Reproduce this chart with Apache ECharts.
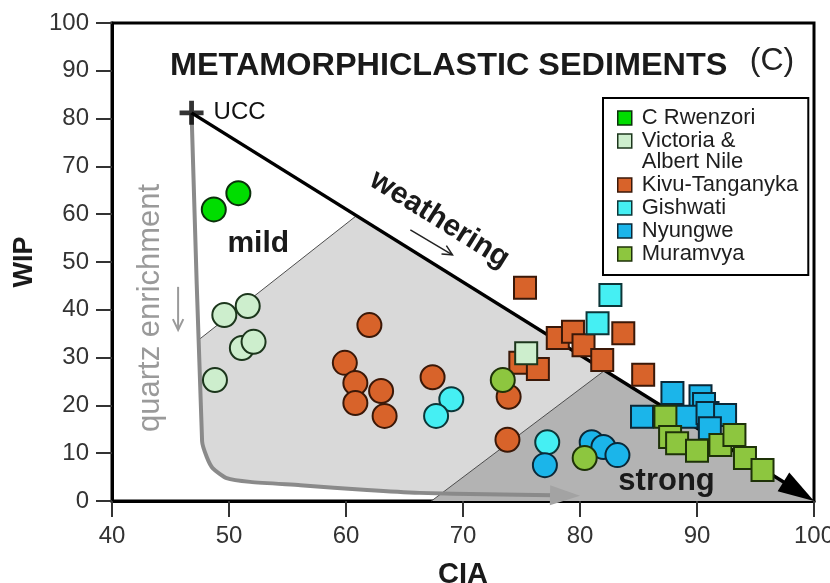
<!DOCTYPE html>
<html>
<head>
<meta charset="utf-8">
<script src="https://cdn.jsdelivr.net/npm/echarts@6/dist/echarts.min.js"></script>
<style>
  html, body { margin: 0; padding: 0; background: #fff; }
  #chart { width: 830px; height: 583px; }
</style>
</head>
<body>
<div id="chart"></div>
<script>
// ---- axes ----
const xTicks = [40, 50, 60, 70, 80, 90, 100];
const yTicks = [0, 10, 20, 30, 40, 50, 60, 70, 80, 90, 100];
const xTitle = 'CIA';
const yTitle = 'WIP';

// ---- sample groups (CIA, WIP) ----
const groupNames = ['C Rwenzori', 'Victoria & Albert Nile', 'Kivu-Tanganyka', 'Gishwati', 'Nyungwe', 'Muramvya'];

const rwenzoriCircles = [[48.7, 61.0], [50.8, 64.4]];
const rwenzoriSquares = [];

const victoriaCircles = [[49.6, 38.9], [51.6, 40.8], [51.1, 32.0], [52.1, 33.3], [48.8, 25.3]];
const victoriaSquares = [[75.4, 30.9]];

const kivuCircles = [[62.0, 36.8], [59.9, 28.9], [60.8, 24.7], [60.8, 20.5], [63.0, 23.0],
                     [63.3, 17.8], [67.4, 25.9], [73.9, 21.8], [73.8, 12.8]];
const kivuSquares = [[75.3, 44.6], [74.9, 28.9], [76.4, 27.6], [78.1, 34.1], [79.4, 35.4],
                     [80.3, 32.6], [81.9, 29.5], [83.7, 35.1], [85.4, 26.4]];

const gishwatiCircles = [[69.0, 21.3], [67.7, 17.8], [77.2, 12.3]];
const gishwatiSquares = [[82.6, 43.1], [81.5, 37.2]];

const nyungweCircles = [[77.0, 7.5], [81.0, 12.3], [82.0, 11.3], [83.2, 9.6]];
const nyungweSquares = [[85.3, 17.6], [87.9, 22.6], [90.3, 21.9], [90.6, 20.3], [89.1, 17.6],
                        [90.9, 18.4], [92.4, 18.0], [91.1, 15.2]];

const muramvyaCircles = [[73.4, 25.3], [80.4, 9.0]];
const muramvyaSquares = [[87.3, 17.6], [87.7, 13.4], [88.3, 12.1], [90.0, 10.5], [92.0, 11.7],
                         [93.2, 13.8], [94.1, 9.0], [95.6, 6.5]];

// upper continental crust reference
const ucc = [46.8, 81.2];

// ---- weathering / sorting trends ----
const weatheringTrend = [ucc, [100, 0]];
const quartzTrend = [ucc, [47.7, 12.5], [48.1, 9.2], [48.6, 6.9], [49.8, 4.8], [51.8, 4.0],
                     [56.1, 3.3], [61.8, 2.3], [66.3, 1.7], [72.0, 1.4], [80.0, 1.1]];

// ---- weathering-intensity fields ----
const mildLine = [[47.4, 33.7], [60.9, 59.7]];
const strongLine = [[67.3, 0], [82.1, 27.3]];
const moderateField = [[47.4, 33.7], [60.9, 59.7], [82.1, 27.3], [68.2, 1.6], [66.3, 1.7],
                       [61.8, 2.3], [56.1, 3.3], [51.8, 4.0], [49.8, 4.8], [48.6, 6.9],
                       [48.1, 9.2], [47.7, 12.5]];
const strongField = [[67.3, 0], [82.1, 27.3], [100, 0]];

const FONT = '"Liberation Sans", Arial, Helvetica, sans-serif';

const chart = echarts.init(document.getElementById('chart'), null, { renderer: 'canvas' });

function fieldSeries(points, fill, edge) {
  return {
    type: 'custom', coordinateSystem: 'cartesian2d', silent: true, z: 1,
    encode: { x: 0, y: 1 }, data: points, clip: false,
    renderItem(params, api) {
      if (params.dataIndex !== 0) return null;
      const children = [{ type: 'polygon', shape: { points: points.map(p => api.coord(p)) },
                          style: { fill: fill, stroke: null } }];
      if (edge) {
        children.push({ type: 'polyline', shape: { points: edge.map(p => api.coord(p)) },
                        style: { stroke: '#4d4d4d', lineWidth: 1, fill: null } });
      }
      return { type: 'group', children };
    }
  };
}

function arrowSeries(points, o) {
  return {
    type: 'custom', coordinateSystem: 'cartesian2d', silent: true, z: 2,
    encode: { x: 0, y: 1 }, data: points, clip: false,
    renderItem(params, api) {
      if (params.dataIndex !== 0) return null;
      const px = points.map(p => api.coord(p));
      const tip = px[px.length - 1], prev = px[px.length - 2];
      let dx = tip[0] - prev[0], dy = tip[1] - prev[1];
      const len = Math.hypot(dx, dy); dx /= len; dy /= len;
      const base = [tip[0] - dx * o.headLen, tip[1] - dy * o.headLen];
      const nx = -dy, ny = dx;
      const shaft = px.slice(0, -1).concat([[base[0] + dx * 3, base[1] + dy * 3]]);
      return {
        type: 'group',
        children: [
          { type: 'polyline', shape: { points: shaft, smooth: o.smooth || 0 },
            style: { stroke: o.color, lineWidth: o.width, fill: null, lineJoin: 'round', lineCap: 'butt' } },
          { type: 'polygon', shape: { points: [tip,
              [base[0] + nx * o.headW, base[1] + ny * o.headW],
              [base[0] - nx * o.headW, base[1] - ny * o.headW]] },
            style: { fill: o.headColor } }
        ]
      };
    }
  };
}

function groupSeries(name, circles, squares, fill, stroke) {
  return {
    type: 'scatter', name: name, z: 4,
    itemStyle: { color: fill, borderColor: stroke, borderWidth: 2, opacity: 1 },
    emphasis: { disabled: true },
    data: circles.map(p => ({ value: p, symbol: 'circle', symbolSize: 24 }))
      .concat(squares.map(p => ({ value: p, symbol: 'rect', symbolSize: 22 })))
  };
}

const option = {
  animation: false,
  backgroundColor: '#fff',
  grid: { left: 112, right: 16, top: 23, bottom: 82, outerBoundsMode: 'none', containLabel: false,
          show: true, borderColor: '#000', borderWidth: 3, backgroundColor: 'transparent' },
  xAxis: {
    type: 'value', min: xTicks[0], max: xTicks[xTicks.length - 1], interval: xTicks[1] - xTicks[0],
    name: xTitle, nameLocation: 'middle', nameGap: 59,
    nameTextStyle: { fontFamily: FONT, fontSize: 29, fontWeight: 'bold', color: '#1a1a1a' },
    axisLine: { show: true, lineStyle: { color: '#000', width: 3 } },
    axisTick: { show: true, inside: false, length: 16, lineStyle: { color: '#333', width: 2 } },
    axisLabel: { fontFamily: FONT, fontSize: 24, color: '#333', margin: 23 },
    splitLine: { show: false }
  },
  yAxis: {
    type: 'value', min: yTicks[0], max: yTicks[yTicks.length - 1], interval: yTicks[1] - yTicks[0],
    name: yTitle, nameLocation: 'middle', nameGap: 71,
    nameTextStyle: { fontFamily: FONT, fontSize: 27, fontWeight: 'bold', color: '#1a1a1a' },
    axisLine: { show: true, lineStyle: { color: '#000', width: 3 } },
    axisTick: { show: true, inside: false, length: 16, lineStyle: { color: '#333', width: 2 } },
    axisLabel: { fontFamily: FONT, fontSize: 24, color: '#333', margin: 23 },
    splitLine: { show: false }
  },
  legend: {
    orient: 'vertical', left: 603, top: 98,
    padding: [9, 10, 10, 14], itemWidth: 14, itemHeight: 14, itemGap: 1,
    icon: 'rect', selectedMode: false,
    backgroundColor: '#fff', borderColor: '#000', borderWidth: 2, borderRadius: 0,
    itemStyle: { borderWidth: 1.5 },
    textStyle: { fontFamily: FONT, fontSize: 22, lineHeight: 21, color: '#1e1e1e', padding: [0, 0, 0, 5] },
    formatter: name => name === groupNames[1] ? '{v|Victoria &}\n{v|Albert Nile}' : name,
    data: groupNames.map((n, i) => i === 1
      ? { name: n, textStyle: { height: 21, rich: { v: { fontFamily: FONT, fontSize: 22, lineHeight: 21, color: '#1e1e1e' } } } }
      : { name: n })
  },
  series: [
    fieldSeries(moderateField, '#d9d9d9', mildLine),
    fieldSeries(strongField, '#b3b3b3', strongLine),
    arrowSeries(quartzTrend, { color: '#8a8a8a', width: 4, headLen: 30, headW: 10, headColor: '#a3a3a3', smooth: 0.2 }),
    arrowSeries(weatheringTrend, { color: '#000', width: 3.5, headLen: 36, headW: 11, headColor: '#000' }),
    groupSeries(groupNames[2], kivuCircles, kivuSquares, '#d8632a', '#3a1808'),
    groupSeries(groupNames[3], gishwatiCircles, gishwatiSquares, '#45eff3', '#0c3638'),
    groupSeries(groupNames[4], nyungweCircles, nyungweSquares, '#1bb5ea', '#0a2838'),
    groupSeries(groupNames[1], victoriaCircles, victoriaSquares, '#cdeecd', '#1c361c'),
    groupSeries(groupNames[0], rwenzoriCircles, rwenzoriSquares, '#00dd00', '#0b300b'),
    groupSeries(groupNames[5], muramvyaCircles, muramvyaSquares, '#8dc63f', '#1e3208'),
    {
      type: 'scatter', name: 'UCC', z: 5, silent: true,
      symbol: 'path://M10,0h5v10h10v5h-10v10h-5v-10h-10v-5h10z', symbolSize: 24,
      itemStyle: { color: '#000' },
      label: { show: true, formatter: 'UCC', position: 'right', distance: 10,
               fontFamily: FONT, fontSize: 24, color: '#111', opacity: 1 },
      data: [ucc]
    }
  ]
};

chart.setOption(option);

// ---- annotations ----
const P = p => chart.convertToPixel({ gridIndex: 0 }, p);
const dark = '#1a1a1a';
const slope = Math.atan2(P([100, 0])[1] - P(ucc)[1], P([100, 0])[0] - P(ucc)[0]);

function textEl(text, at, size, weight, color, rotation, align, scaleX) {
  return {
    type: 'text', x: at[0], y: at[1], rotation: rotation || 0, scaleX: scaleX || 1,
    silent: true, z: 10,
    style: { text: text, fontFamily: FONT, fontSize: size, fontWeight: weight, fill: color,
             align: align || 'center', textAlign: align || 'center',
             verticalAlign: 'middle', textVerticalAlign: 'middle' }
  };
}
function openArrow(from, to, color, width, head) {
  const dx = to[0] - from[0], dy = to[1] - from[1];
  const a = Math.atan2(dy, dx);
  const l1 = [to[0] - head * Math.cos(a - 0.45), to[1] - head * Math.sin(a - 0.45)];
  const l2 = [to[0] - head * Math.cos(a + 0.45), to[1] - head * Math.sin(a + 0.45)];
  return [
    { type: 'polyline', silent: true, z: 10, shape: { points: [from, to] }, style: { stroke: color, lineWidth: width, fill: null } },
    { type: 'polyline', silent: true, z: 10, shape: { points: [l1, to, l2] }, style: { stroke: color, lineWidth: width, fill: null } }
  ];
}

chart.setOption({
  graphic: [
    textEl('METAMORPHICLASTIC SEDIMENTS', [170, 66], 31, 'bold', dark, 0, 'left', 1.045),
    textEl('(C)', [772, 61], 32, 'normal', '#222', 0, 'center'),
    textEl('mild', P([52.5, 53.8]), 30, 'bold', dark),
    textEl('strong', P([87.4, 4.0]), 31, 'bold', dark),
    textEl('weathering', P([68.0, 58.9]), 30, 'bold', dark, -slope),
    textEl('quartz enrichment', P([43.25, 40.4]), 31, 'normal', '#9a9a9a', Math.PI / 2),
    ...openArrow(P([65.5, 56.7]), P([69.1, 51.5]), '#222', 1.5, 11),
    ...openArrow(P([45.65, 44.8]), P([45.65, 35.8]), '#9a9a9a', 2, 12)
  ]
});
</script>
</body>
</html>
